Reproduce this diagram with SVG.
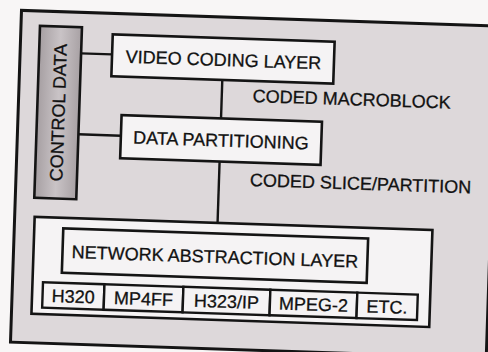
<svg xmlns="http://www.w3.org/2000/svg" width="488" height="352" viewBox="0 0 488 352">
  <style>
    .frame { fill: #ddd8da; stroke: #141414; stroke-width: 3; }
    .box { fill: #f5f3f4; stroke: #141414; stroke-width: 2.6; }
    .cell { fill: #f5f3f4; stroke: #141414; stroke-width: 2.4; }
    .link { fill: none; stroke: #141414; stroke-width: 2.4; }
    .lbl { font-family: "Liberation Sans", Arial, Helvetica, sans-serif; font-size: 18px; fill: #111111; stroke: #111111; stroke-width: 0.3; }
    .mid { text-anchor: middle; }
  </style>
  <defs>
    <linearGradient id="ctrlFill" x1="0" y1="0" x2="1" y2="0">
      <stop offset="0" stop-color="#a69fa2"/>
      <stop offset="0.5" stop-color="#c9c3c6"/>
      <stop offset="1" stop-color="#a8a1a4"/>
    </linearGradient>
  </defs>

  <rect x="0" y="0" width="488" height="352" fill="#f8f6f6"/>

  <!-- the whole stack sits slightly tilted -->
  <g transform="rotate(1.9 250 180)">
    <rect id="frame" class="frame" x="16" y="18" width="476" height="332"/>

    <g id="connectors">
      <line class="link" x1="77" y1="59" x2="108" y2="59"/>
      <line class="link" x1="77" y1="140" x2="119.5" y2="140"/>
      <line class="link" x1="219" y1="81" x2="219" y2="119.5"/>
      <line class="link" x1="219" y1="162.5" x2="219" y2="224"/>
    </g>

    <g id="control-data">
      <rect x="35" y="33" width="42" height="172" fill="url(#ctrlFill)" stroke="#141414" stroke-width="2.6"/>
      <text class="lbl mid" transform="translate(62.5 119) rotate(-90)">CONTROL DATA</text>
    </g>

    <g id="video-coding-layer">
      <rect class="box" x="108" y="39" width="222" height="42"/>
      <text class="lbl mid" x="219.5" y="67">VIDEO CODING LAYER</text>
    </g>

    <g id="coded-macroblock">
      <text class="lbl" x="250" y="102">CODED MACROBLOCK</text>
    </g>

    <g id="data-partitioning">
      <rect class="box" x="119.5" y="119.5" width="200.5" height="43"/>
      <text class="lbl mid" x="219.7" y="147.5">DATA PARTITIONING</text>
    </g>

    <g id="coded-slice">
      <text class="lbl" x="250" y="186">CODED SLICE/PARTITION</text>
    </g>

    <g id="network-abstraction-layer">
      <rect class="box" x="36" y="224" width="398" height="97"/>
      <rect class="box" x="65" y="234.5" width="305" height="44.5"/>
      <text class="lbl mid" x="217.5" y="264">NETWORK ABSTRACTION LAYER</text>
    </g>

    <g id="transports">
      <rect class="cell" x="46.5" y="289" width="61.5" height="25.5"/>
      <rect class="cell" x="108" y="289" width="79" height="25.5"/>
      <rect class="cell" x="187" y="289" width="87" height="25.5"/>
      <rect class="cell" x="274" y="289" width="87" height="25.5"/>
      <rect class="cell" x="361" y="289" width="60.5" height="25.5"/>
      <text class="lbl mid" x="77.2" y="308.5">H320</text>
      <text class="lbl mid" x="147.5" y="308.5">MP4FF</text>
      <text class="lbl mid" x="230.5" y="308.5">H323/IP</text>
      <text class="lbl mid" x="317.5" y="308.5">MPEG-2</text>
      <text class="lbl mid" x="391.2" y="308.5">ETC.</text>
    </g>
  </g>
</svg>
